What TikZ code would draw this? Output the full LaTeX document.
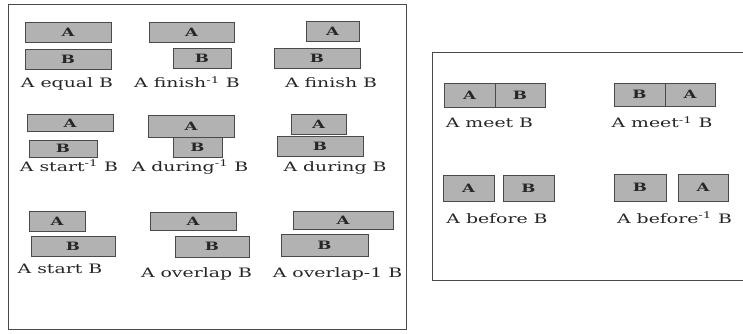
\documentclass[tikz,border=0pt]{standalone}
\usepackage{fontspec}
\setmainfont{DejaVu Serif}
\usepackage{graphicx}
\definecolor{barfill}{HTML}{B2B2B2}
\definecolor{barline}{HTML}{4A4A4A}
\definecolor{inkgray}{HTML}{262626}
\newcommand{\wide}[1]{\scalebox{1.45}[1]{#1}}
\newcommand{\inv}{\textsuperscript{-1}}
\begin{document}
\begin{tikzpicture}[
  x=1pt, y=-1pt,
  bar/.style={draw=barline, line width=0.9pt, fill=barfill, inner sep=0pt,
    minimum height=20pt, text=inkgray,
    font=\fontsize{11.5}{11.5}\selectfont\bfseries},
  rel/.style={inner sep=0pt, anchor=base, text=inkgray,
    font=\fontsize{13}{13}\selectfont},
  frame/.style={draw=barline, line width=0.8pt}
]
\useasboundingbox (0,0) rectangle (743,334);
% left frame
\draw[frame] (8,4) rectangle (406,329);
% right frame, runs off the page
\draw[frame] (743,52) -- (432,52) -- (432,280) -- (743,280);

% row 1
\node[bar, minimum width=86pt] (eqA) at (68,32) {\wide{A}};
\node[bar, minimum width=86pt] (eqB) at (68,59.5) {\wide{B}};
\node[rel] (eqL) at (67,87.5) {\wide{A equal B}};
\node[bar, minimum width=85pt] (fiiA) at (191.5,32.5) {\wide{A}};
\node[bar, minimum width=58pt] (fiiB) at (202,58.5) {\wide{B}};
\node[rel] (fiiL) at (187,87.5) {\wide{A finish\inv{} B}};
\node[bar, minimum width=53pt] (fiA) at (332.5,31) {\wide{A}};
\node[bar, minimum width=86pt] (fiB) at (317,58) {\wide{B}};
\node[rel] (fiL) at (331,87.5) {\wide{A finish B}};

% row 2
\node[bar, minimum width=86pt, minimum height=17pt] (stiA) at (70,123) {\wide{A}};
\node[bar, minimum width=68pt, minimum height=17pt] (stiB) at (63,148.5) {\wide{B}};
\node[rel] (stiL) at (69,171) {\wide{A start\inv{} B}};
\node[bar, minimum width=86pt, minimum height=22pt] (duiA) at (191,126) {\wide{A}};
\node[bar, minimum width=49pt] (duiB) at (197.5,147) {\wide{B}};
\node[rel] (duiL) at (190,171) {\wide{A during\inv{} B}};
\node[bar, minimum width=55pt] (duA) at (318.5,124.5) {\wide{A}};
\node[bar, minimum width=86pt] (duB) at (320,146.5) {\wide{B}};
\node[rel] (duL) at (335,171) {\wide{A during B}};

% row 3
\node[bar, minimum width=56pt] (stA) at (57,221.5) {\wide{A}};
\node[bar, minimum width=84pt] (stB) at (73,246.5) {\wide{B}};
\node[rel] (stL) at (60,273) {\wide{A start B}};
\node[bar, minimum width=86pt, minimum height=18pt] (ovA) at (193,221) {\wide{A}};
\node[bar, minimum width=74pt, minimum height=21pt] (ovB) at (212,246.5) {\wide{B}};
\node[rel] (ovL) at (196.5,277) {\wide{A overlap B}};
\node[bar, minimum width=100pt, minimum height=18pt] (oviA) at (343,220) {\wide{A}};
\node[bar, minimum width=87pt, minimum height=22pt] (oviB) at (324.5,245) {\wide{B}};
\node[rel] (oviL) at (337.5,277) {\wide{A overlap-1 B}};

% right part
\node[bar, minimum width=51pt, minimum height=24pt] (meA) at (469.5,95) {\wide{A}};
\node[bar, minimum width=50pt, minimum height=24pt] (meB) at (520,95) {\wide{B}};
\node[rel] (meL) at (489.5,128) {\wide{A meet B}};
\node[bar, minimum width=51pt, minimum height=23pt] (meiB) at (639.5,94.5) {\wide{B}};
\node[bar, minimum width=50pt, minimum height=23pt] (meiA) at (690,94.5) {\wide{A}};
\node[rel] (meiL) at (662,128) {\wide{A meet\inv{} B}};
\node[bar, minimum width=51pt, minimum height=26pt] (beA) at (468.5,188) {\wide{A}};
\node[bar, minimum width=51pt, minimum height=26pt] (beB) at (528.5,188) {\wide{B}};
\node[rel] (beL) at (497,223) {\wide{A before B}};
\node[bar, minimum width=52pt, minimum height=27pt] (beiB) at (640,187.5) {\wide{B}};
\node[bar, minimum width=50pt, minimum height=27pt] (beiA) at (703,187.5) {\wide{A}};
\node[rel] (beiL) at (674.5,223) {\wide{A before\inv{} B}};
\end{tikzpicture}
\end{document}
